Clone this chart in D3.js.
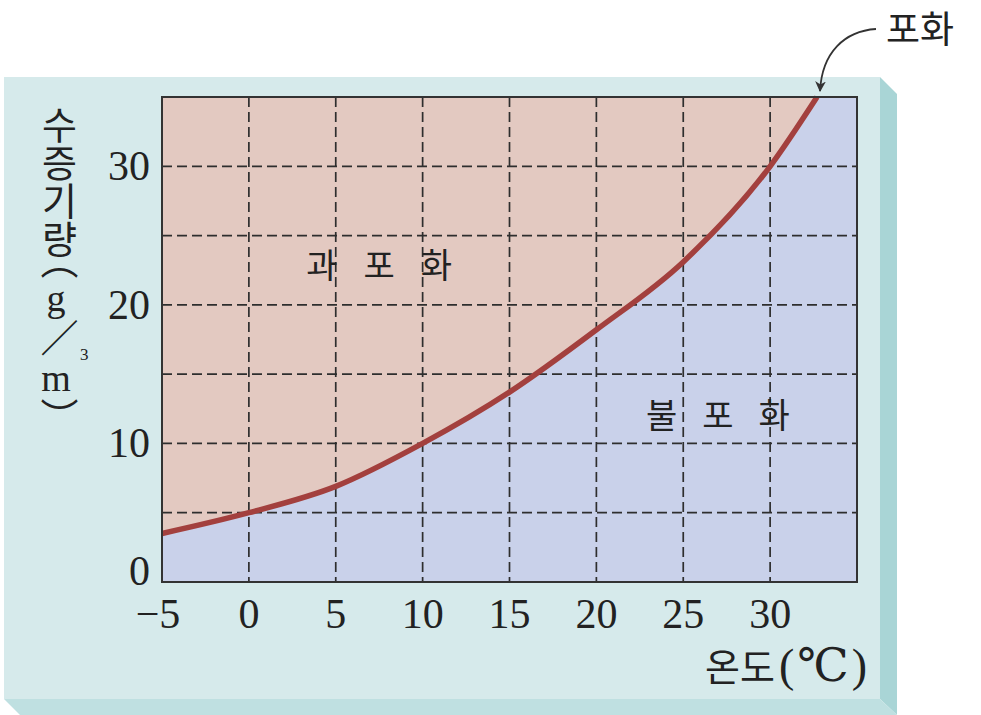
<!DOCTYPE html>
<html>
<head>
<meta charset="utf-8">
<script src="https://cdn.jsdelivr.net/npm/d3@7"></script>
<style>
  body { margin: 0; background: #fff; }
  .tick-label { font-family: "Liberation Serif", "DejaVu Serif", serif; fill: #222; }
  .ko { font-family: "Noto Sans CJK KR", sans-serif; fill: #222; }
  .serif { font-family: "Liberation Serif", "DejaVu Serif", serif; }
  .vtitle {
    font-family: "Liberation Serif", "Noto Sans CJK KR", serif;
    fill: #222;
    writing-mode: vertical-rl;
    text-orientation: upright;
    font-feature-settings: "vpal" 1;
  }
</style>
</head>
<body>
<svg id="chart"></svg>
<script>
'use strict'

// temperature (°C) and saturated water vapour (g/m3)
const temps = [-5, 0, 5, 10, 15, 20, 25, 30, 32.7]
const vapour = [3.5, 5.0, 6.9, 10.0, 13.7, 18.2, 23.1, 30.0, 35]
const xTickLabels = [-5, 0, 5, 10, 15, 20, 25, 30]
const yTickLabels = [0, 10, 20, 30]
const gridX = [0, 5, 10, 15, 20, 25, 30]
const gridY = [5, 10, 15, 20, 25, 30]

const W = 981, H = 715
const margins = {top: 97, right: 124, bottom: 133, left: 162}
const chartWidth = W - margins.left - margins.right
const chartHeight = H - margins.top - margins.bottom

const svg = d3.select('#chart').attr('width', W).attr('height', H)

// panel with bevelled edges
svg.append('polygon') // right edge
  .attr('points', '880,77 897,94 897,715 880,699')
  .attr('fill', '#a9d5d6')
svg.append('polygon') // bottom edge
  .attr('points', '4,699 880,699 897,715 20,715')
  .attr('fill', '#bfe0e1')
svg.append('rect')
  .attr('x', 4).attr('y', 77).attr('width', 876).attr('height', 622)
  .attr('fill', '#d6eaeb')

const x = d3.scaleLinear().domain([-5, 35]).range([0, chartWidth])
const y = d3.scaleLinear().domain([0, 35]).range([chartHeight, 0])

const data = temps.map((t, i) => ({t: t, v: vapour[i]}))

const g = svg.append('g')
  .attr('transform', 'translate(' + margins.left + ',' + margins.top + ')')

// unsaturated background
g.append('rect')
  .attr('width', chartWidth).attr('height', chartHeight)
  .attr('fill', '#c9d1ea')

// supersaturated area above the curve
g.append('path')
  .datum(data)
  .attr('fill', '#e3c9c1')
  .attr('d', d3.area()
    .x(d => x(d.t))
    .y0(y(35))
    .y1(d => y(d.v))
    .curve(d3.curveMonotoneX))

// dashed grid
g.selectAll('.gx').data(gridX).enter().append('line')
  .attr('x1', d => x(d)).attr('x2', d => x(d))
  .attr('y1', 0).attr('y2', chartHeight)
  .attr('stroke', '#2e2e2e').attr('stroke-width', 1.7)
  .attr('stroke-dasharray', '10,5')
g.selectAll('.gy').data(gridY).enter().append('line')
  .attr('y1', d => y(d)).attr('y2', d => y(d))
  .attr('x1', 0).attr('x2', chartWidth)
  .attr('stroke', '#2e2e2e').attr('stroke-width', 1.7)
  .attr('stroke-dasharray', '10,5')

// saturation curve
g.append('path')
  .datum(data)
  .attr('fill', 'none')
  .attr('stroke', '#a3403e')
  .attr('stroke-width', 5.5)
  .attr('d', d3.line()
    .x(d => x(d.t))
    .y(d => y(d.v))
    .curve(d3.curveMonotoneX))

// frame
g.append('rect')
  .attr('width', chartWidth).attr('height', chartHeight)
  .attr('fill', 'none').attr('stroke', '#333').attr('stroke-width', 2)

// tick labels
g.selectAll('.xl').data(xTickLabels).enter().append('text')
  .attr('class', 'tick-label')
  .attr('x', d => x(d) + (d < 0 ? -4 : 0))
  .attr('y', chartHeight + 46)
  .attr('text-anchor', 'middle')
  .style('font-size', '42px')
  .text(d => d < 0 ? '\u2212' + Math.abs(d) : d)
g.selectAll('.yl').data(yTickLabels).enter().append('text')
  .attr('class', 'tick-label')
  .attr('x', -12)
  .attr('y', d => y(d) + (d === 0 ? 3 : 14))
  .attr('text-anchor', 'end')
  .style('font-size', '42px')
  .text(d => d)

// region labels
g.append('text').attr('class', 'ko')
  .attr('x', x(3.3)).attr('y', y(21.95))
  .style('font-size', '34px').style('letter-spacing', '26px')
  .text('과포화')
g.append('text').attr('class', 'ko')
  .attr('x', x(22.85)).attr('y', y(11.1))
  .style('font-size', '34px').style('letter-spacing', '25px')
  .text('불포화')

// x axis title
const xTitle = svg.append('text').attr('class', 'ko')
  .attr('x', 705).attr('y', 681)
  .style('font-size', '38px')
xTitle.append('tspan').text('온도')
xTitle.append('tspan').attr('class', 'serif')
  .attr('dx', 4)
  .style('font-size', '46px').style('letter-spacing', '3px')
  .text('(℃)')

// y axis title, written vertically
svg.append('text').attr('class', 'vtitle')
  .attr('x', 56).attr('y', 106)
  .style('font-size', '38px')
  .text('수증기량（g／m）')
svg.append('text').attr('class', 'serif')
  .attr('x', 80).attr('y', 360)
  .style('font-size', '17px').style('fill', '#222')
  .text('3')

// "포화" annotation with curved arrow to the end of the curve
const endX = margins.left + x(temps[temps.length - 1])
const endY = margins.top + y(vapour[vapour.length - 1])
svg.append('defs').append('marker')
  .attr('id', 'arrow')
  .attr('viewBox', '0 0 10 10')
  .attr('refX', 9).attr('refY', 5)
  .attr('markerWidth', 6).attr('markerHeight', 6)
  .attr('orient', 'auto')
  .append('path').attr('d', 'M0,0 L10,5 L0,10 L3,5 Z').attr('fill', '#333')
svg.append('path')
  .attr('d', 'M876,29 C845,31 822,52 ' + (endX + 3) + ',' + (endY - 6))
  .attr('fill', 'none').attr('stroke', '#333').attr('stroke-width', 1.8)
  .attr('marker-end', 'url(#arrow)')
svg.append('text').attr('class', 'ko')
  .attr('x', 886).attr('y', 43)
  .style('font-size', '37px')
  .text('포화')
</script>
</body>
</html>
